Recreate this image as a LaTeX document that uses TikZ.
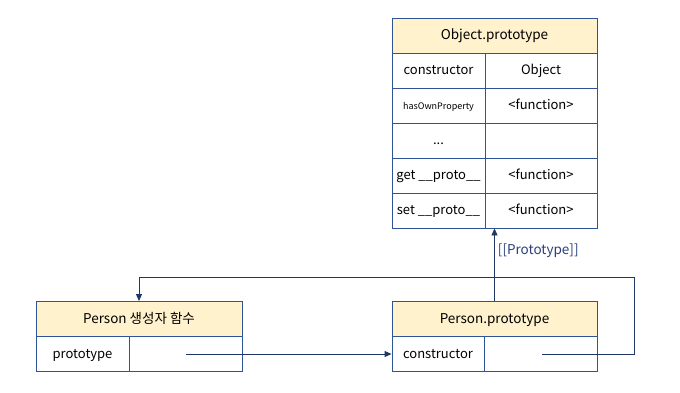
\documentclass[tikz,border=0pt]{standalone}
\usepackage{fontspec}
\setmainfont{Noto Sans CJK KR}
\usetikzlibrary{arrows.meta}
\definecolor{bordercol}{HTML}{2F5496}
\definecolor{arrcol}{HTML}{1F3864}
\definecolor{lblcol}{HTML}{2B3F7E}
\definecolor{headfill}{HTML}{FFF2CC}
\tikzset{
  cell/.style={draw=bordercol, line width=0.9pt, minimum height=35pt, inner sep=0pt,
    text height=0.95em, text depth=0.08em, font=\fontsize{13}{15}\selectfont},
  headcell/.style={cell, fill=headfill, font=\fontsize{13.5}{15}\selectfont},
  arr/.style={draw=arrcol, line width=0.9pt, -{Triangle[width=6pt,length=7pt]}},
}
\begin{document}
\begin{tikzpicture}[x=1pt,y=-1pt]
\useasboundingbox[fill=white] (0,0) rectangle (680,392);
% Object.prototype
\node[headcell, minimum width=205pt] (op) at (494.5,35.5) {Object.prototype};
\node[cell, minimum width=93pt] (opk1) at (438.5,70.5) {constructor};
\node[cell, minimum width=112pt] (opv1) at (541,70.5) {Object};
\node[cell, minimum width=93pt, font=\fontsize{9}{10}\selectfont] (opk2) at (438.5,105.5) {hasOwnProperty};
\node[cell, minimum width=112pt] (opv2) at (541,105.5) {<function>};
\node[cell, minimum width=93pt] (opk3) at (438.5,140.5) {...};
\node[cell, minimum width=112pt] (opv3) at (541,140.5) {};
\node[cell, minimum width=93pt] (opk4) at (438.5,175.5) {get \_\_proto\_\_};
\node[cell, minimum width=112pt] (opv4) at (541,175.5) {<function>};
\node[cell, minimum width=93pt] (opk5) at (438.5,210.5) {set \_\_proto\_\_};
\node[cell, minimum width=112pt] (opv5) at (541,210.5) {<function>};
% Person constructor function
\node[headcell, minimum width=206pt] (pf) at (139,319) {Person 생성자 함수};
\node[cell, minimum width=93pt] (pfk) at (82.5,354) {prototype};
\node[cell, minimum width=113pt] (pfv) at (185.5,354) {};
% Person.prototype
\node[headcell, minimum width=205pt] (pp) at (494.5,319) {Person.prototype};
\node[cell, minimum width=92pt] (ppk) at (438,354) {constructor};
\node[cell, minimum width=113pt] (ppv) at (540.5,354) {};
% connectors
\draw[arr] (pp.north) -- (pp.north |- opk5.south)
  node[pos=0.7, right=1pt, text=lblcol, font=\fontsize{13.5}{15}\selectfont, inner sep=2pt] (lbl) {[[Prototype]]};
\coordinate (s1) at (186,354);
\draw[arr] (s1) -- (ppk.west);
\coordinate (s2) at (542,354);
\draw[arr] (s2) -- ++(92,0) -- ++(0,-77) -| (pf.north);
\end{tikzpicture}
\end{document}
